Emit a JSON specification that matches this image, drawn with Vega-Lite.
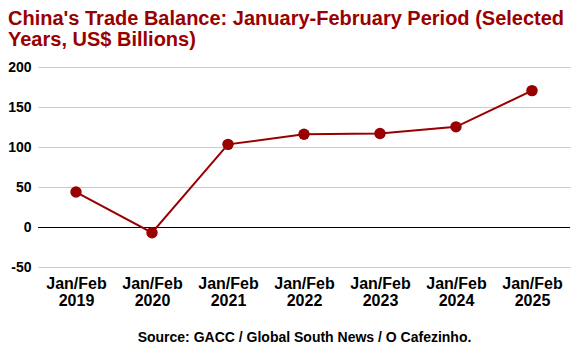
{
  "$schema": "https://vega.github.io/schema/vega-lite/v6.json",
  "width": 532,
  "height": 200,
  "autosize": {"type": "none"},
  "padding": {"left": 38, "top": 67, "right": 13, "bottom": 87},
  "background": "white",
  "config": {"view": {"stroke": null}, "font": "Liberation Sans"},
  "title": {
    "text": ["China's Trade Balance: January-February Period (Selected", "Years, US$ Billions)"],
    "anchor": "start",
    "frame": "group",
    "dx": -30,
    "offset": 10,
    "font": "Liberation Sans",
    "fontSize": 20,
    "fontWeight": "bold",
    "color": "#990000",
    "lineHeight": 21
  },
  "data": {
    "values": [
      {"period": "Jan/Feb 2019", "balance": 43.7},
      {"period": "Jan/Feb 2020", "balance": -7.1},
      {"period": "Jan/Feb 2021", "balance": 103.3},
      {"period": "Jan/Feb 2022", "balance": 115.9},
      {"period": "Jan/Feb 2023", "balance": 116.9},
      {"period": "Jan/Feb 2024", "balance": 125.2},
      {"period": "Jan/Feb 2025", "balance": 170.5}
    ]
  },
  "layer": [
    {
      "mark": {"type": "rule", "color": "#000000", "strokeWidth": 1, "yOffset": 0.5},
      "data": {"values": [{"balance": 0}]},
      "encoding": {
        "y": {
          "field": "balance",
          "type": "quantitative",
          "scale": {"domain": [-50, 200], "nice": false},
          "axis": {
            "title": null,
            "values": [-50, 0, 50, 100, 150, 200],
            "tickCount": 10,
            "labelExpr": "'' + datum.value",
            "labelOverlap": false,
            "labelFont": "Liberation Sans",
            "labelFontSize": 14,
            "labelFontWeight": "bold",
            "labelColor": "#000000",
            "labelPadding": 7,
            "ticks": false,
            "domain": false,
            "grid": true,
            "gridColor": "#cccccc",
            "gridWidth": 1
          }
        }
      }
    },
    {
      "mark": {"type": "line", "color": "#990000", "strokeWidth": 2},
      "encoding": {
        "x": {
          "field": "period",
          "type": "ordinal",
          "scale": {"type": "point", "padding": 0.5},
          "axis": {
            "title": "Source: GACC / Global South News / O Cafezinho.",
            "titleFont": "Liberation Sans",
            "titleFontSize": 14,
            "titleFontWeight": "bold",
            "titleColor": "#000000",
            "titlePadding": 22,
            "labelExpr": "split(datum.label, ' ')",
            "labelAngle": 0,
            "labelFont": "Liberation Sans",
            "labelFontSize": 16,
            "labelFontWeight": "bold",
            "labelColor": "#000000",
            "labelLineHeight": 17,
            "labelPadding": 8,
            "labelOverlap": false,
            "ticks": false,
            "domain": false,
            "grid": false
          }
        },
        "y": {
          "field": "balance",
          "type": "quantitative",
          "axis": {
            "title": null,
            "values": [-50, 0, 50, 100, 150, 200],
            "tickCount": 10,
            "labelExpr": "'' + datum.value",
            "labelOverlap": false,
            "labelFont": "Liberation Sans",
            "labelFontSize": 14,
            "labelFontWeight": "bold",
            "labelColor": "#000000",
            "labelPadding": 7,
            "ticks": false,
            "domain": false,
            "grid": true,
            "gridColor": "#cccccc",
            "gridWidth": 1
          }
        }
      }
    },
    {
      "mark": {"type": "circle", "color": "#990000", "opacity": 1, "size": 130},
      "encoding": {
        "x": {"field": "period", "type": "ordinal", "scale": {"type": "point", "padding": 0.5}},
        "y": {"field": "balance", "type": "quantitative"}
      }
    }
  ]
}
